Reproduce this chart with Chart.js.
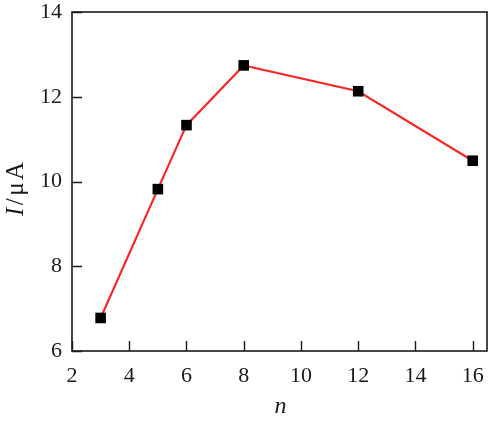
<!DOCTYPE html>
<html>
<head>
<meta charset="utf-8">
<script src="https://cdn.jsdelivr.net/npm/chart.js@4/dist/chart.umd.min.js"></script>
<style>
  html, body { margin: 0; padding: 0; background: #fff; }
  #wrap { width: 496px; height: 421px; position: relative; }
</style>
</head>
<body>
<div id="wrap"><canvas id="c"></canvas></div>
<script>
// values
const nValues = [3, 5, 6, 8, 12, 16];
const currentValues = [6.78, 9.82, 11.33, 12.74, 12.13, 10.49];
const xTicks = [2, 4, 6, 8, 10, 12, 14, 16];
const yTicks = [6, 8, 10, 12, 14];

const SERIF = "'Times New Roman', 'Liberation Serif', Times, serif";
const INK = '#1a1a1a';

Chart.defaults.font.family = SERIF;
Chart.defaults.font.size = 22;

// frame + inward ticks + axis titles
const framePlugin = {
  id: 'frame',
  afterDraw(chart) {
    const ctx = chart.ctx;
    const a = chart.chartArea;
    const xs = chart.scales.x, ys = chart.scales.y;
    ctx.save();
    ctx.strokeStyle = INK;
    ctx.lineWidth = 1.6;
    ctx.strokeRect(a.left, a.top, a.right - a.left, a.bottom - a.top);

    ctx.lineWidth = 1.4;
    ctx.beginPath();
    for (const v of xTicks) {
      const px = Math.round(xs.getPixelForValue(v)) + 0.5;
      ctx.moveTo(px, a.bottom);
      ctx.lineTo(px, a.bottom - 10);
    }
    for (const v of yTicks) {
      const py = Math.round(ys.getPixelForValue(v)) + 0.5;
      ctx.moveTo(a.left, py);
      ctx.lineTo(a.left + 10, py);
    }
    ctx.stroke();

    // x title
    ctx.fillStyle = INK;
    ctx.font = 'italic 24px ' + SERIF;
    ctx.textAlign = 'center';
    ctx.textBaseline = 'alphabetic';
    ctx.fillText('n', (a.left + a.right) / 2 + 1, 413);

    // y title: italic I + / μ A, slightly spaced
    const parts = [['italic 25px ', 'I'], ['25px ', '/'], ['25px ', 'μ'], ['25px ', 'A']];
    const gap = 2.5;
    let total = 0;
    const widths = parts.map(([f, t]) => { ctx.font = f + SERIF; const w = ctx.measureText(t).width; total += w; return w; });
    total += gap * (parts.length - 1);
    ctx.translate(23, 189);
    ctx.rotate(-Math.PI / 2);
    ctx.textAlign = 'left';
    let x = -total / 2;
    parts.forEach(([f, t], i) => {
      ctx.font = f + SERIF;
      ctx.fillText(t, x, 0);
      x += widths[i] + gap;
    });
    ctx.restore();
  }
};

function build() {
  new Chart(document.getElementById('c'), {
    type: 'line',
    data: {
      datasets: [{
        data: nValues.map((n, i) => ({ x: n, y: currentValues[i] })),
        borderColor: '#f42a2a',
        borderWidth: 2.2,
        tension: 0,
        pointStyle: 'rect',
        pointRadius: 7.5,
        pointBackgroundColor: '#000',
        pointBorderColor: '#000',
        pointBorderWidth: 0,
        clip: false,
      }]
    },
    plugins: [framePlugin],
    options: {
      responsive: true,
      maintainAspectRatio: false,
      animation: false,
      layout: { padding: { top: 12, right: 9, left: 0, bottom: 0 } },
      plugins: { legend: { display: false }, tooltip: { enabled: false } },
      scales: {
        x: {
          type: 'linear',
          min: 2,
          max: 16.5,
          afterBuildTicks: s => { s.ticks = xTicks.map(v => ({ value: v })); },
          afterFit: s => { s.height = 70; s.paddingLeft = 0; s.paddingRight = 0; },
          grid: { display: false, drawTicks: false },
          border: { display: false },
          ticks: { color: INK, padding: 12, maxRotation: 0, autoSkip: false,
                   font: { family: SERIF, size: 22 } },
        },
        y: {
          type: 'linear',
          min: 6,
          max: 14,
          afterBuildTicks: s => { s.ticks = yTicks.map(v => ({ value: v })); },
          afterFit: s => { s.width = 72; s.paddingTop = 0; s.paddingBottom = 0; },
          grid: { display: false, drawTicks: false },
          border: { display: false },
          ticks: { color: INK, padding: 10, font: { family: SERIF, size: 22 } },
        }
      }
    }
  });
}

if (document.fonts && document.fonts.load) {
  Promise.all([
    document.fonts.load('22px "Liberation Serif"'),
    document.fonts.load('italic 24px "Liberation Serif"')
  ]).then(build, build);
} else {
  build();
}
</script>
</body>
</html>
